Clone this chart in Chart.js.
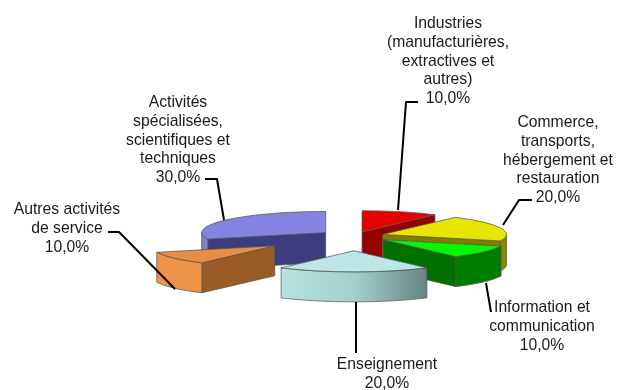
<!DOCTYPE html>
<html>
<head>
<meta charset="utf-8">
<style>
  html, body { margin: 0; padding: 0; background: #fff; }
  canvas { display: block; filter: blur(0.35px); }
</style>
<script src="https://cdn.jsdelivr.net/npm/chart.js@4"></script>
</head>
<body>
<canvas id="chart" width="617" height="390"></canvas>
<script>
// data
const categories = [
  "Industries\n(manufacturières,\nextractives et\nautres)",
  "Commerce,\ntransports,\nhébergement et\nrestauration",
  "Information et\ncommunication",
  "Enseignement",
  "Autres activités\nde service",
  "Activités\nspécialisées,\nscientifiques et\ntechniques"
];
const values = [10, 20, 10, 20, 10, 30];

// look of the slices
const topColors = ["#e80000", "#e8e600", "#00f800", "#bde6e6", "#e98c44", "#8484e0"];
const cutColors = ["#960000", "#857c00", "#007000", "#7fa5a5", "#9a5c24", "#3c3c7e"];
const rimColors = ["#b00000", "#8f8600", "#007e00", "#b5e3e0", "#ee9448", "#8080d8"];
const explode = [26, 30, 36, 87, 98, 35];
const drawOrder = [5, 0, 1, 2, 4, 3];
const SQUASH = 0.17, DEPTH = 30;

// text centre + leader line for each label, same order as categories
const labelPos = [
  { x: 448, y: 24, leader: [[418,102],[406,102],[398,210]] },
  { x: 558, y: 123, leader: [[532,200],[519,200],[503,225]] },
  { x: 542, y: 308, leader: [[486,283],[491,312]] },
  { x: 387, y: 365, leader: [[356,302],[356,353]] },
  { x: 67, y: 210, leader: [[108,232],[119,232],[175,289]] },
  { x: 178, y: 103, leader: [[205,179],[217,179],[224,220]] }
];
const LINE_H = 18.7;

const pct = v => v.toFixed(1).replace(".", ",") + "%";

function drawSlice(ctx, arc, i) {
  const { x, y, startAngle: a0, endAngle: a1, outerRadius: r } = arc.getProps(["x","y","startAngle","endAngle","outerRadius"]);
  const mid = (a0 + a1) / 2;
  const ax = x + explode[i] * Math.cos(mid);
  const ay = y + explode[i] * SQUASH * Math.sin(mid);
  const pt = a => [ax + r * Math.cos(a), ay + r * SQUASH * Math.sin(a)];
  ctx.lineWidth = 1;
  ctx.strokeStyle = "rgba(85,85,85,0.75)";
  ctx.lineJoin = "round";

  // flat cut faces that look towards the viewer
  const cuts = [];
  if (Math.cos(a0) < -1e-6) cuts.push(a0);
  if (Math.cos(a1) > 1e-6) cuts.push(a1);
  cuts.forEach(a => {
    const p = pt(a);
    ctx.beginPath();
    ctx.moveTo(ax, ay);
    ctx.lineTo(p[0], p[1]);
    ctx.lineTo(p[0], p[1] + DEPTH);
    ctx.lineTo(ax, ay + DEPTH);
    ctx.closePath();
    ctx.fillStyle = cutColors[i];
    ctx.fill();
    ctx.stroke();
  });

  // curved rim, front half only
  const s = Math.max(a0, 0), e = Math.min(a1, Math.PI);
  if (e > s) {
    const path = () => {
      ctx.beginPath();
      ctx.ellipse(ax, ay, r, r * SQUASH, 0, s, e);
      ctx.ellipse(ax, ay + DEPTH, r, r * SQUASH, 0, e, s, true);
      ctx.closePath();
    };
    let fill = rimColors[i];
    if (i === 3) { // enseignement fades to grey on the right
      fill = ctx.createLinearGradient(pt(e)[0], 0, pt(s)[0], 0);
      fill.addColorStop(0, "#b4e4e0");
      fill.addColorStop(0.5, "#a5cfcd");
      fill.addColorStop(1, "#668484");
    }
    path();
    ctx.fillStyle = fill;
    ctx.fill();
    ctx.stroke();
  }

  // top face is the chart's own arc, flattened
  ctx.save();
  ctx.translate(ax, ay);
  ctx.scale(1, SQUASH);
  ctx.translate(-x, -y);
  arc.draw(ctx);
  ctx.beginPath();
  ctx.moveTo(x, y);
  ctx.arc(x, y, r, a0, a1);
  ctx.closePath();
  ctx.restore();
  ctx.stroke();
}

const pie3d = {
  id: "pie3d",
  beforeDatasetsDraw(chart) {
    const ctx = chart.ctx;
    const arcs = chart.getDatasetMeta(0).data;
    drawOrder.forEach(i => drawSlice(ctx, arcs[i], i));
    return false;
  },
  afterDraw(chart) {
    const ctx = chart.ctx;
    ctx.save();
    ctx.strokeStyle = "#000";
    ctx.lineWidth = 2;
    labelPos.forEach(p => {
      ctx.beginPath();
      p.leader.forEach((q, n) => n ? ctx.lineTo(q[0], q[1]) : ctx.moveTo(q[0], q[1]));
      ctx.stroke();
    });
    ctx.fillStyle = "#1a1a1a";
    ctx.font = "15.7px 'Liberation Sans', Arial, sans-serif";
    ctx.textAlign = "center";
    ctx.textBaseline = "middle";
    categories.forEach((c, i) => {
      const lines = c.split("\n").concat(pct(values[i]));
      lines.forEach((t, n) => ctx.fillText(t, labelPos[i].x, labelPos[i].y + n * LINE_H));
    });
    ctx.restore();
  }
};

new Chart(document.getElementById("chart"), {
  type: "pie",
  data: {
    labels: categories,
    datasets: [{ data: values, backgroundColor: topColors, borderWidth: 0 }]
  },
  options: {
    responsive: false,
    animation: false,
    layout: { padding: { left: 91, right: 0, top: 112, bottom: 30 } },
    plugins: { legend: { display: false }, tooltip: { enabled: false } }
  },
  plugins: [pie3d]
});
</script>
</body>
</html>
